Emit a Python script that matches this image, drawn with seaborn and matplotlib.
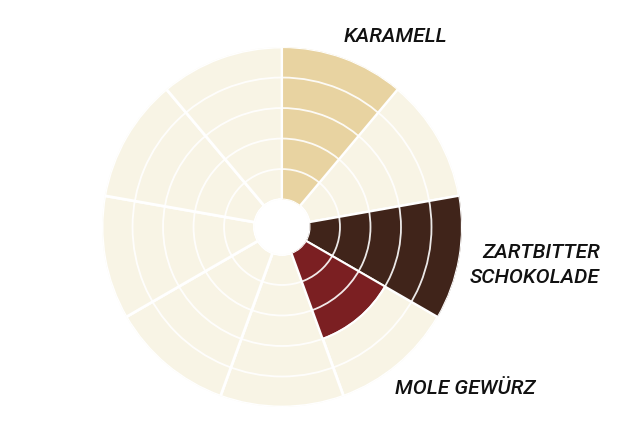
import matplotlib
matplotlib.use("Agg")
import matplotlib.pyplot as plt
import seaborn as sns
import numpy as np

# 9 sectors, clockwise from top
sectors = ["KARAMELL", "", "ZARTBITTER\nSCHOKOLADE", "MOLE GEWÜRZ", "", "", "", "", ""]
values = [5, 0, 5, 3, 0, 0, 0, 0, 0]
colors = ["#e8d3a1", "#f8f4e5", "#40241a", "#7b1f22", "#f8f4e5", "#f8f4e5", "#f8f4e5", "#f8f4e5", "#f8f4e5"]
r_max = 5

sns.set_theme(style="white")
plt.rcParams['font.family'] = ['Roboto', 'DejaVu Sans']

fig = plt.figure(figsize=(6.4, 4.26), dpi=100)
ax = fig.add_axes([0.1594, 0.0446, 0.5625, 0.845], projection="polar")
ax.set_theta_zero_location("N")
ax.set_theta_direction(-1)

n = len(values)
width = 2 * np.pi / n
theta = np.arange(n) * width + width / 2

# background cream sectors
ax.bar(theta, [r_max] * n, width=width, color="#f8f4e5", edgecolor="white", linewidth=2, zorder=1)
# coloured sectors
ax.bar(theta, values, width=width, color=colors, edgecolor="white", linewidth=1.5, zorder=2)

ax.set_ylim(0, r_max)
ax.set_rorigin(-0.9)
ax.set_rgrids([1, 2, 3, 4], labels=[])
ax.set_thetagrids(np.degrees(np.arange(n) * width), labels=[])
ax.grid(True, color="white", linewidth=1.3, alpha=0.9)
ax.set_axisbelow(False)
for g in ax.xaxis.get_gridlines():
    g.set_visible(False)
for sp in ax.spines.values():
    sp.set_visible(False)
    sp.set_linewidth(0)
ax.set_facecolor("none")

fs = 15
txt = dict(fontsize=fs, style="italic", fontweight="medium", color="#111111")
fig.text(395 / 640, 1 - 36 / 426, sectors[0], ha="center", va="center", **txt)
fig.text(600 / 640, 1 - 265 / 426, sectors[2], ha="right", va="center",
         linespacing=1.35, multialignment="right", **txt)
fig.text(465 / 640, 1 - 389 / 426, sectors[3], ha="center", va="center", **txt)

fig.savefig("out.png", dpi=100)
